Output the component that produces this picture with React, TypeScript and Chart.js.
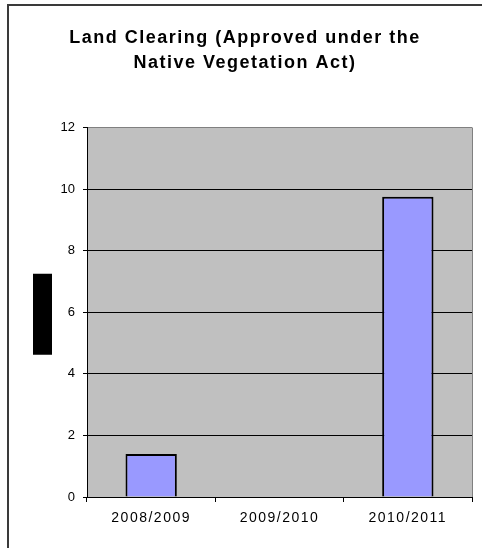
import { useEffect, useRef } from 'react';
import { Chart, registerables } from 'chart.js';

Chart.register(...registerables);

const categories = ['2008/2009', '2009/2010', '2010/2011'];
const clearingValues = [1.4, 0, 9.75];
const yTickValues = [0, 2, 4, 6, 8, 10, 12];
const titleLines = ['Land Clearing (Approved under the', 'Native Vegetation Act)'];

const FONT = '"Liberation Sans", Arial, Helvetica, sans-serif';

const decorPlugin = {
  id: 'decor',
  beforeDraw(chart: any) {
    const { ctx, chartArea: a } = chart;
    ctx.save();
    // plot area background
    ctx.fillStyle = '#C0C0C0';
    ctx.fillRect(a.left, a.top, a.right - a.left, a.bottom - a.top);
    // right border of plot area
    ctx.strokeStyle = '#808080';
    ctx.lineWidth = 1;
    ctx.beginPath();
    ctx.moveTo(a.right + 0.5, a.top);
    ctx.lineTo(a.right + 0.5, a.bottom);
    ctx.stroke();
    // outer frame (cropped on right and bottom)
    ctx.strokeStyle = '#3a3a3a';
    ctx.lineWidth = 2;
    ctx.beginPath();
    ctx.moveTo(8, chart.height + 2);
    ctx.lineTo(8, 5);
    ctx.lineTo(chart.width + 2, 5);
    ctx.stroke();
    // redacted axis title block
    const midY = (a.top + a.bottom) / 2 + 2;
    ctx.fillStyle = '#000';
    ctx.fillRect(a.left - 54, midY - 40.5, 19, 81);
    ctx.restore();
    ctx.letterSpacing = '1.5px';
  },
  afterDatasetsDraw(chart: any) {
    chart.ctx.letterSpacing = '0px';
  },
};

export default function App() {
  const canvasRef = useRef<HTMLCanvasElement | null>(null);

  useEffect(() => {
    const canvas = canvasRef.current;
    if (!canvas) return;
    const chart = new Chart(canvas, {
      type: 'bar',
      data: {
        labels: categories,
        datasets: [
          {
            data: clearingValues,
            backgroundColor: '#9999FF',
            borderColor: '#000000',
            borderWidth: 2,
            barPercentage: 0.4,
            categoryPercentage: 1,
          },
        ],
      },
      options: {
        animation: false,
        responsive: false,
        devicePixelRatio: 1,
        layout: { padding: { left: 18, right: 10, top: 0, bottom: 0 } },
        plugins: {
          legend: { display: false },
          tooltip: { enabled: false },
          title: {
            display: true,
            text: titleLines,
            color: '#000',
            font: { family: FONT, size: 18, weight: 'bold', lineHeight: 25 / 18 },
            padding: { top: 25.6, bottom: 51.9 },
          },
        },
        scales: {
          x: {
            offset: true,
            grid: {
              offset: true,
              drawOnChartArea: false,
              drawTicks: true,
              tickLength: 5,
              color: '#000',
              lineWidth: 1,
            },
            border: { display: true, color: '#000', width: 1 },
            ticks: {
              color: '#000',
              font: { family: FONT, size: 14 },
              padding: 8,
              maxRotation: 0,
              autoSkip: false,
            },
            afterFit: (s: any) => {
              s.height = 51;
            },
          },
          y: {
            min: yTickValues[0],
            max: yTickValues[yTickValues.length - 1],
            ticks: {
              stepSize: yTickValues[1] - yTickValues[0],
              color: '#000',
              font: { family: FONT, size: 13 },
              padding: 8,
              z: 1,
            },
            grid: {
              color: (c: any) =>
                c.tick && c.tick.value === yTickValues[yTickValues.length - 1] ? '#808080' : '#000',
              tickColor: '#000',
              tickLength: 4,
              lineWidth: 1,
            },
            border: { color: '#000', width: 1 },
            afterFit: (s: any) => {
              s.width = 69;
            },
          },
        },
      },
      plugins: [decorPlugin],
    } as any);
    return () => chart.destroy();
  }, []);

  return (
    <div style={{ position: 'absolute', left: 0, top: 0, width: 482, height: 548, background: '#fff' }}>
      <canvas ref={canvasRef} width={482} height={548} />
    </div>
  );
}
